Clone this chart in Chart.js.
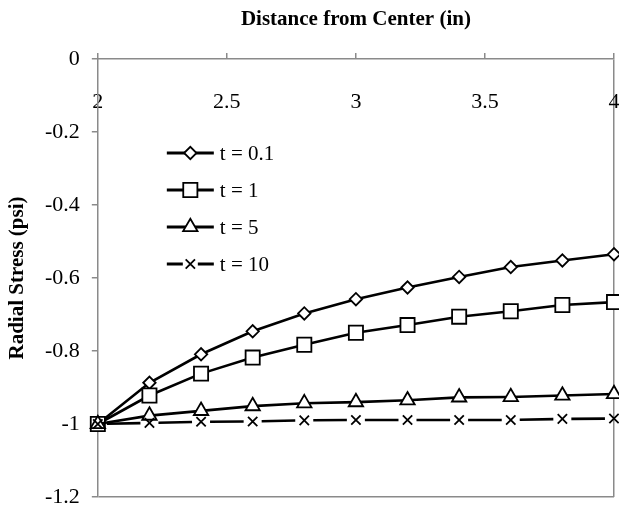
<!DOCTYPE html>
<html lang="en">
<head>
  <meta charset="UTF-8">
  <meta name="viewport" content="width=device-width, initial-scale=1.0">
  <title>Radial Stress</title>
  <style>
    html, body { margin: 0; padding: 0; background: #fff; }
  </style>
</head>
<body>

  <canvas id="graphic" width="619" height="508"></canvas>

  <!-- ChartJS -->
  <script src="https://cdn.jsdelivr.net/npm/chart.js"></script>

  <script>
    // Datos
    const distancias = [2, 2.2, 2.4, 2.6, 2.8, 3, 3.2, 3.4, 3.6, 3.8, 4];
    const etiquetas = ["t = 0.1", "t = 1", "t = 5", "t = 10"];

    const esfuerzoT01 = [-1, -0.887, -0.809, -0.746, -0.697, -0.658, -0.626, -0.597, -0.570, -0.552, -0.535];
    const esfuerzoT1  = [-1, -0.922, -0.862, -0.818, -0.783, -0.750, -0.729, -0.706, -0.691, -0.674, -0.666];
    const esfuerzoT5  = [-1, -0.977, -0.964, -0.951, -0.943, -0.940, -0.935, -0.927, -0.926, -0.922, -0.918];
    const esfuerzoT10 = [-1, -0.997, -0.994, -0.993, -0.990, -0.989, -0.989, -0.989, -0.989, -0.986, -0.985];

    const ticksX = [2, 2.5, 3, 3.5, 4];
    const ticksY = [-1.2, -1, -0.8, -0.6, -0.4, -0.2, 0];

    const fuente = "'Liberation Serif', 'Times New Roman', serif";
    const gris = '#8a8a8a';

    document.addEventListener("DOMContentLoaded", () => {
      const lienzo = document.getElementById("graphic");

      const puntos = (valores) => distancias.map((x, i) => ({ x: x, y: valores[i] }));

      // guiones de t = 10: un hueco centrado en cada marcador
      const guionT10 = (ctx) => {
        const s = ctx.chart.scales.x;
        const paso = s ? s.getPixelForValue(distancias[1]) - s.getPixelForValue(distancias[0]) : 51.6;
        return [paso - 18, 18];
      };

      // sin margen extra por las etiquetas de los extremos
      const sinRelleno = (s) => {
        s.paddingLeft = 0; s.paddingRight = 0;
        s.paddingTop = 0; s.paddingBottom = 0;
      };

      const base = {
        borderColor: '#000',
        borderWidth: 2.6,
        pointBackgroundColor: '#fff',
        pointBorderColor: '#000',
        pointBorderWidth: 1.8,
        tension: 0,
        clip: false
      };

      // leyenda dentro del area del grafico (linea + marcador + texto)
      const leyendaInterna = {
        id: 'leyendaInterna',
        afterDatasetsDraw(chart, args, opts) {
          const { ctx, chartArea } = chart;
          const x0 = chartArea.left + opts.left;
          let y = chartArea.top + opts.top;
          chart.data.datasets.forEach(ds => {
            ctx.save();
            ctx.strokeStyle = '#000';
            ctx.lineWidth = 3;
            ctx.setLineDash(ds.leyendaGuion || []);
            ctx.beginPath();
            ctx.moveTo(x0, y);
            ctx.lineTo(x0 + opts.largo, y);
            ctx.stroke();
            ctx.restore();

            ctx.save();
            ctx.fillStyle = '#fff';
            ctx.strokeStyle = '#000';
            ctx.lineWidth = ds.pointBorderWidth;
            Chart.helpers.drawPoint(ctx, {
              pointStyle: ds.pointStyle,
              radius: ds.pointRadius,
              borderWidth: ds.pointBorderWidth,
              rotation: 0
            }, x0 + opts.largo / 2, y);
            ctx.restore();

            ctx.save();
            ctx.fillStyle = '#000';
            ctx.font = "21px " + fuente;
            ctx.textBaseline = 'middle';
            ctx.fillText(ds.label, x0 + opts.largo + opts.separacion, y + 1);
            ctx.restore();

            y += opts.espacio;
          });
        }
      };

      const grafico = new Chart(lienzo, {
        type: 'line',
        data: {
          datasets: [
            { ...base, label: etiquetas[0], data: puntos(esfuerzoT01), pointStyle: 'rectRot', pointRadius: 6.2, order: 4 },
            { ...base, label: etiquetas[1], data: puntos(esfuerzoT1), pointStyle: 'rect', pointRadius: 10, order: 3 },
            { ...base, label: etiquetas[2], data: puntos(esfuerzoT5), pointStyle: 'triangle', pointRadius: 8.3, order: 2 },
            { ...base, label: etiquetas[3], data: puntos(esfuerzoT10), pointStyle: 'crossRot', pointRadius: 6.6, order: 1,
              borderDash: guionT10, borderDashOffset: -9, leyendaGuion: [16, 15] }
          ]
        },
        options: {
          responsive: false,
          devicePixelRatio: 1,
          animation: false,
          events: [],
          layout: {
            autoPadding: false,
            padding: { top: 3, left: 2, right: 5, bottom: 11 }
          },
          scales: {
            x: {
              type: 'linear',
              position: 'top',
              min: 2,
              max: 4,
              afterBuildTicks: (s) => { s.ticks = ticksX.map(v => ({ value: v })); },
              afterFit: sinRelleno,
              ticks: { display: false },
              grid: {
                drawOnChartArea: true,
                color: (c) => (c.tick && c.tick.value === 4) ? gris : 'rgba(0,0,0,0)',
                tickColor: gris,
                tickLength: 6,
                lineWidth: 1.5
              },
              border: { color: gris, width: 1.5 },
              title: {
                display: true,
                text: 'Distance from Center (in)',
                color: '#000',
                font: { family: fuente, size: 21, weight: 'bold' },
                padding: { top: 4.4, bottom: 20.4 }
              }
            },
            // etiquetas del eje X, dibujadas bajo la linea superior
            xt: {
              type: 'linear',
              axis: 'x',
              position: { y: -0.06 },
              min: 2,
              max: 4,
              afterBuildTicks: (s) => { s.ticks = ticksX.map(v => ({ value: v })); },
              afterFit: sinRelleno,
              grid: { display: false },
              border: { display: false },
              ticks: {
                color: '#000',
                font: { family: fuente, size: 22 },
                padding: 0,
                maxRotation: 0,
                autoSkip: false,
                callback: (v) => String(v)
              }
            },
            y: {
              type: 'linear',
              min: -1.2,
              max: 0,
              afterBuildTicks: (s) => { s.ticks = ticksY.map(v => ({ value: v })); },
              afterFit: sinRelleno,
              ticks: {
                color: '#000',
                font: { family: fuente, size: 22 },
                padding: 12,
                callback: (v) => String(Math.round(v * 10) / 10)
              },
              grid: {
                color: (c) => (c.tick && c.tick.value === -1.2) ? gris : 'rgba(0,0,0,0)',
                tickColor: gris,
                tickLength: 6,
                lineWidth: 1.5
              },
              border: { color: gris, width: 1.5 },
              title: {
                display: true,
                text: 'Radial Stress (psi)',
                color: '#000',
                font: { family: fuente, size: 21, weight: 'bold' },
                padding: { top: 3.4, bottom: 2.4 }
              }
            }
          },
          plugins: {
            legend: { display: false },
            tooltip: { enabled: false },
            leyendaInterna: { left: 69, top: 94, largo: 47, separacion: 6, espacio: 37 }
          }
        },
        plugins: [leyendaInterna]
      });
    });
  </script>
</body>
</html>
